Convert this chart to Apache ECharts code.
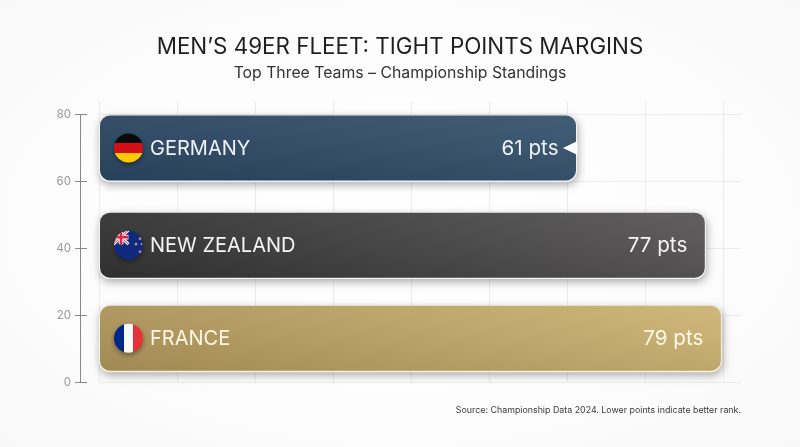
<!DOCTYPE html>
<html>
<head>
<meta charset="utf-8">
<style>
html,body{margin:0;padding:0;width:800px;height:447px;overflow:hidden;background:radial-gradient(ellipse at center,#ffffff 0%,#fdfdfd 55%,#f8f8f8 100%);}
#main{width:800px;height:447px;}
</style>
<script src="https://cdn.jsdelivr.net/npm/echarts@6/dist/echarts.min.js"></script>
</head>
<body>
<div id="main"></div>
<script>
const teams = ['GERMANY', 'NEW ZEALAND', 'FRANCE'];
const points = [61, 77, 79];
const rows = [70, 41, 13.2];
const yTicks = [0, 20, 40, 60, 80];
const titleText = 'MEN\u2019S 49ER FLEET: TIGHT POINTS MARGINS';
const subtitleText = 'Top Three Teams \u2013 Championship Standings';
const sourceText = 'Source: Championship Data 2024. Lower points indicate better rank.';
const barSpan = 19.4;
const barAxisMin = 1.86;
const barAxisMax = 81.5;

const FONT = 'Inter, "Noto Sans", sans-serif';
const barColors = [
  ['#2a4560', '#38546f'],
  ['#323232', '#585656'],
  ['#ad9359', '#cdb474']
];
const textColors = ['#eef3f8', '#f5f5f5', '#fff8e6'];
const BG = '#fefefe';

function flag(i, cx, cy) {
  const r = 14.5;
  const shadow = {shadowBlur: 5, shadowOffsetY: 2, shadowOffsetX: 0, shadowColor: 'rgba(0,0,0,0.4)'};
  const circle = (fill) => ({type: 'circle', shape: {cx, cy, r}, style: Object.assign({fill}, shadow)});
  const hard = (x, y, x2, y2, cols) => {
    const stops = [];
    cols.forEach((c, k) => {
      stops.push({offset: k / cols.length, color: c});
      stops.push({offset: (k + 1) / cols.length, color: c});
    });
    return new echarts.graphic.LinearGradient(x, y, x2, y2, stops);
  };
  if (i === 0) return [circle(hard(0, 0, 0, 1, ['#0a0a0a', '#d40e14', '#fdc900']))];
  if (i === 2) return [circle(hard(0, 0, 1, 0, ['#00268a', '#f8f8f6', '#e8303c']))];
  const line = (x1, y1, x2, y2, stroke, w) => ({
    type: 'line', shape: {x1: cx + x1, y1: cy + y1, x2: cx + x2, y2: cy + y2},
    style: {stroke, lineWidth: w}
  });
  const star = (dx, dy, s) => ({
    type: 'circle', shape: {cx: cx + dx, cy: cy + dy, r: s},
    style: {fill: '#e24a5a', stroke: '#f4f4f4', lineWidth: 0.4}
  });
  return [
    circle('#0f2a7c'),
    {
      type: 'group',
      clipPath: {type: 'circle', shape: {cx, cy, r}},
      children: [
        {type: 'polygon', shape: {points: [[cx - 15, cy - 15], [cx, cy - 15], [cx, cy - 1], [cx - 15, cy - 1]]},
         style: {fill: '#1b2f7a'}},
        line(-15, -15, 0, -1, '#f6f6f6', 3),
        line(-15, -1, 0, -15, '#f6f6f6', 3),
        line(-15, -15, 0, -1, '#d8283c', 1),
        line(-15, -1, 0, -15, '#d8283c', 1),
        line(-7.5, -15, -7.5, -1, '#f6f6f6', 4.5),
        line(-15, -8, 0, -8, '#f6f6f6', 4.5),
        line(-7.5, -15, -7.5, -1, '#d8283c', 2.6),
        line(-15, -8, 0, -8, '#d8283c', 2.6)
      ]
    },
    star(7.5, -1, 1.1), star(11.5, -6.5, 1), star(11.5, 6.5, 1), star(13, -1, 0.7)
  ];
}

function renderBar(params, api) {
  const i = params.dataIndex;
  const val = api.value(0), row = api.value(1);
  const left = api.coord([barAxisMin, row + barSpan / 2]);
  const right = api.coord([val, row - barSpan / 2]);
  const x = left[0], y = left[1], w = right[0] - left[0], h = right[1] - left[1];
  const cy = y + h / 2;
  const children = [
    {type: 'rect', shape: {x: x - 1, y: y - 0.2, width: w + 2, height: h + 1.6, r: 11},
     style: {fill: i === 2 ? '#f7f1df' : '#f4f5f6', shadowBlur: 9, shadowOffsetX: 1, shadowOffsetY: 3, shadowColor: 'rgba(0,0,0,0.33)'}},
    {type: 'rect', shape: {x, y, width: w, height: h, r: 10},
     style: {fill: new echarts.graphic.LinearGradient(0, 0.5, 1, 0.5, [
       {offset: 0, color: barColors[i][0]}, {offset: 1, color: barColors[i][1]}
     ])}},
    {type: 'rect', shape: {x, y, width: w, height: h, r: 10},
     style: {fill: new echarts.graphic.LinearGradient(0, 0, 0, 1, [
       {offset: 0, color: 'rgba(255,255,255,0.05)'}, {offset: 1, color: 'rgba(0,0,0,0.07)'}
     ])}}
  ];
  if (i === 0) {
    children.push({type: 'polygon',
      shape: {points: [[x + w - 13, cy], [x + w + 1.5, cy - 7], [x + w + 1.5, cy + 7]]},
      style: {fill: BG}});
  }
  flag(i, x + 28.5, cy).forEach(c => children.push(c));
  children.push({type: 'text', style: {x: x + 50, y: cy + 1, text: teams[i], fill: textColors[i],
    font: '400 20px ' + FONT, textAlign: 'left', verticalAlign: 'middle'}});
  children.push({type: 'text', style: {x: x + w - 17.5, y: cy + 1, text: val + ' pts', fill: textColors[i],
    font: '400 20.6px ' + FONT, textAlign: 'right', verticalAlign: 'middle'}});
  return {type: 'group', children};
}

const chart = echarts.init(document.getElementById('main'), null, {renderer: 'canvas'});
const axisCommon = {type: 'value', min: 0, max: 80, interval: 20};
chart.setOption({
  animation: false,
  backgroundColor: 'transparent',
  title: [
    {text: titleText, left: 'center', top: 31, textStyle: {fontFamily: FONT, fontSize: 22.4, fontWeight: 400, color: '#1f1f1f'}},
    {text: subtitleText, left: 'center', top: 60, textStyle: {fontFamily: FONT, fontSize: 15.8, fontWeight: 400, color: '#333333'}},
    {text: sourceText, right: 54, top: 401, textStyle: {fontFamily: FONT, fontSize: 8.85, fontWeight: 400, color: '#3a3a3a'}}
  ],
  grid: [
    {left: 100, top: 114.5, width: 641, height: 268, containLabel: false},
    {left: 99, top: 101, width: 642, height: 281.5, containLabel: false}
  ],
  xAxis: [
    {type: 'value', gridIndex: 0, min: barAxisMin, max: barAxisMax, show: false},
    {type: 'value', gridIndex: 1, min: 0, max: 642 / 7.8, interval: 10, axisLine: {show: false}, axisTick: {show: false}, axisLabel: {show: false},
     splitLine: {show: true, showMaxLine: false, lineStyle: {color: '#ececec', width: 1}}}
  ],
  yAxis: [
    Object.assign({}, axisCommon, {gridIndex: 0, position: 'left', offset: 20,
      axisLine: {show: true, onZero: false, lineStyle: {color: '#888888', width: 1}},
      axisTick: {show: true, length: 5, lineStyle: {color: '#888888'}},
      axisLabel: {color: '#999999', fontFamily: FONT, fontSize: 11.5, margin: 9,
        customValues: yTicks},
      splitLine: {show: true, lineStyle: {color: '#ececec', width: 1}}}),
    Object.assign({}, axisCommon, {gridIndex: 0, position: 'left', offset: 20,
      axisLine: {show: false, onZero: false},
      axisTick: {show: true, inside: true, length: 7, lineStyle: {color: '#888888'}},
      axisLabel: {show: false}, splitLine: {show: false}}),
    {type: 'value', gridIndex: 1, min: 0, max: 1, show: false}
  ],
  series: [{
    type: 'custom',
    xAxisIndex: 0, yAxisIndex: 0,
    clip: false,
    renderItem: renderBar,
    encode: {x: 0, y: 1},
    data: points.map((p, i) => [p, rows[i]])
  }]
});
</script>
</body>
</html>
